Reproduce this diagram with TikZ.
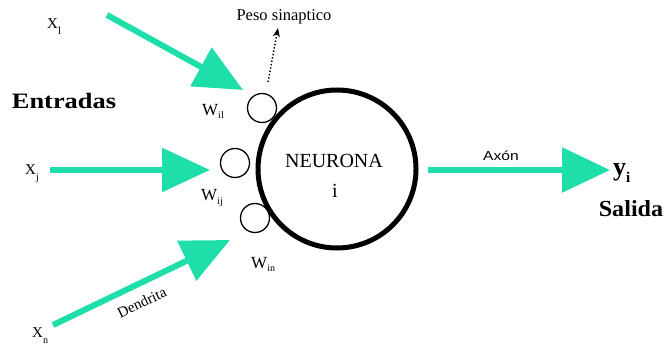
\documentclass[tikz,border=0pt]{standalone}
\usepackage{fontspec}
\setmainfont{Liberation Serif}
\newfontfamily\labelsans{Liberation Sans}
\usetikzlibrary{arrows.meta}
\definecolor{dendrite}{RGB}{30,222,170}
\newcommand\fsz[1]{\fontsize{#1}{#1}\selectfont}
% symbol with a lowered subscript: {main}{sub}{main size}{sub size}{drop}
\newcommand\symsub[5]{{\fsz{#3}#1}\raisebox{-#5pt}{\fsz{#4}#2}}
\begin{document}
\begin{tikzpicture}[x=1pt,y=-1pt,
  fat/.style={draw=dendrite, line width=6pt, -{Triangle[length=48pt,width=43pt]}},
  syn/.style={circle, draw, line width=1.3pt, minimum size=29pt, inner sep=0pt},
  lbl/.style={inner sep=0pt, anchor=base west},
  ctr/.style={inner sep=0pt, anchor=base},
]
\useasboundingbox (0,0) rectangle (668,350);

% neuron body and synapses
\node[circle, draw, line width=5pt, minimum size=158pt, inner sep=0pt] (neu) at (337,169) {};
\node[syn] (s1) at (262,108) {};
\node[syn] (s2) at (235,163) {};
\node[syn] (s3) at (255,218) {};
\node[ctr, font=\fsz{20}] (neuname) at (334,167) {NEURONA};
\node[ctr, font=\fsz{20}] (neuidx) at (335,197) {i};

% input / output ends
\coordinate (x1s) at (107,15);
\coordinate (x1e) at (243,90);
\coordinate (xjs) at (50,170);
\coordinate (xje) at (210,170);
\coordinate (xns) at (53,325);
\coordinate (xne) at (230,240);
\coordinate (axs) at (428,170);
\coordinate (axe) at (610,170);
\coordinate (pws) at (268,82);
\coordinate (pwe) at (278,28);

\draw[fat] (x1s) -- (x1e);
\draw[fat] (xjs) -- (xje);
\draw[fat] (xns) -- (xne);
\draw[fat, -{Triangle[length=48pt,width=44pt]}] (axs) -- (axe);
\draw[dotted, line width=1.4pt, -{Stealth[length=9pt,width=7pt]}] (pws) -- (pwe);

% labels
\node[ctr, font=\fsz{16.5}] (peso) at (284,21) {Peso sinaptico};
\node[lbl] (x1) at (47,29) {\symsub{X}{l}{15}{11}{6}};
\node[lbl] (xj) at (25,174) {\symsub{X}{j}{15}{10}{6}};
\node[lbl] (xn) at (32,337) {\symsub{X}{n}{15}{10}{6}};
\node[lbl] (w1) at (202,115) {\symsub{W}{il}{17}{10}{3}};
\node[lbl] (wj) at (201,200) {\symsub{W}{ij}{17}{10}{4}};
\node[lbl] (wn) at (251,268) {\symsub{W}{in}{17}{10}{3}};
\node[ctr, font=\fsz{22}\bfseries] (entr) at (64,109) {\scalebox{1.2}[1]{Entradas}};
\node[ctr, font=\fsz{15}, rotate=25.6] (dend) at (144,307) {Dendrita};
\node[ctr, font=\labelsans\fsz{13}] (axon) at (501,160) {\scalebox{1.2}[1]{Axón}};
\node[lbl, font=\bfseries] (yi) at (613,175) {\symsub{y}{i}{26}{15}{7}};
\node[ctr, font=\fsz{23}\bfseries] (sal) at (631,216) {\scalebox{1.05}[1]{Salida}};
\end{tikzpicture}
\end{document}
